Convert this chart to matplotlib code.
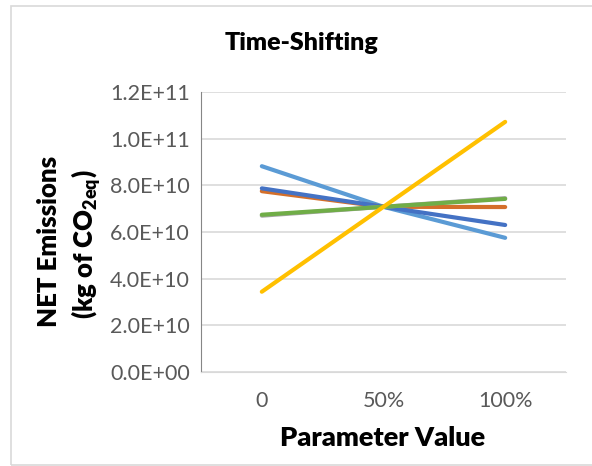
import matplotlib.pyplot as plt
from matplotlib.patches import Rectangle

plt.rcParams['font.family'] = ['Lato', 'DejaVu Sans']
plt.rcParams['mathtext.fontset'] = 'custom'
plt.rcParams['mathtext.rm'] = 'Lato'
plt.rcParams['mathtext.bf'] = 'Lato:heavy'

categories = ["0", "50%", "100%"]
# series (kg of CO2eq)
s_blue = [7.87e10, 7.08e10, 6.30e10]
s_orange = [7.75e10, 7.08e10, 7.07e10]
s_gray = [6.70e10, 7.08e10, 7.45e10]
s_yellow = [3.44e10, 7.08e10, 10.72e10]
s_lightblue = [8.82e10, 7.08e10, 5.75e10]
s_green = [6.74e10, 7.08e10, 7.42e10]

yticks = [0, 2e10, 4e10, 6e10, 8e10, 10e10, 12e10]
ytick_labels = ["0.0E+00", "2.0E+10", "4.0E+10", "6.0E+10", "8.0E+10", "1.0E+11", "1.2E+11"]

fig = plt.figure(figsize=(5.92, 4.66), dpi=100)
ax = fig.add_axes([201/592, 1-372/466, 365/592, 280/466])

x = range(len(categories))
series = [
    (s_lightblue, "#5B9BD5"),
    (s_orange, "#D46F2A"),
    (s_blue, "#4472C4"),
    (s_gray, "#A5A5A5"),
    (s_green, "#70AD47"),
    (s_yellow, "#FFC000"),
]
for vals, col in series:
    ax.plot(x, vals, color=col, lw=3, solid_capstyle="round", zorder=3)

ax.set_xlim(-0.5, 2.5)
ax.set_ylim(0, 1.2e11)
ax.set_yticks(yticks)
ax.set_yticklabels(ytick_labels)
ax.set_xticks(list(x))
ax.set_xticklabels(categories)
ax.tick_params(axis="both", length=0, labelsize=15.5, colors="#595959", pad=8)
ax.tick_params(axis="x", pad=14)
ax.grid(axis="y", color="#D9D9D9", lw=1.2)
ax.set_axisbelow(True)
for s in ["top", "right"]:
    ax.spines[s].set_visible(False)
ax.spines["left"].set_color("#868686")
ax.spines["bottom"].set_color("#D9D9D9")

fig.text(383/592, 1-438/466, "Parameter Value", ha="center", va="center",
         fontsize=19.5, fontweight="heavy")
fig.text(49/592, 1-241/466, "NET Emissions", rotation=90,
         ha="center", va="center", fontsize=18.5, fontweight="heavy")
fig.text(86/592, 1-244/466, "(kg of CO$_{\\mathbf{2eq}}$)", rotation=90,
         ha="center", va="center", fontsize=18.5, fontweight="heavy")
fig.text(302/592, 1-43/466, "Time-Shifting", ha="center", va="center",
         fontsize=18, fontweight="heavy")

fig.patches.append(Rectangle((11/592, 1/466), 1.2, 459/466, transform=fig.transFigure,
                             fill=False, edgecolor="#D9D9D9", lw=1.2))

fig.savefig("out.png", dpi=100)
